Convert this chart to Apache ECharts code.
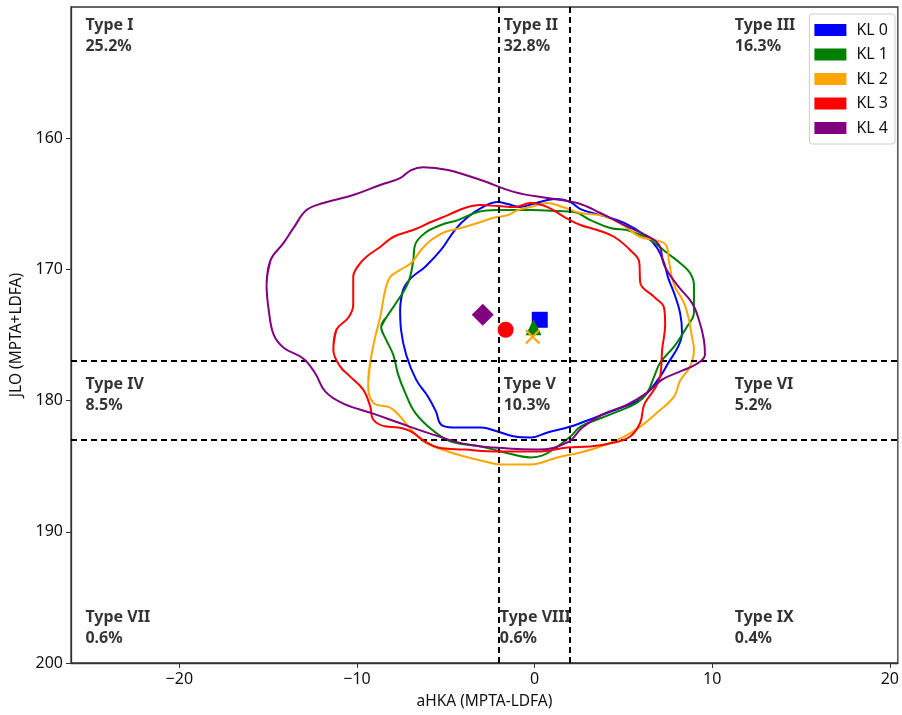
<!DOCTYPE html>
<html>
<head>
<meta charset="utf-8">
<script src="https://cdn.jsdelivr.net/npm/echarts@6/dist/echarts.min.js"></script>
<style>
html,body{margin:0;padding:0;background:#fff;}
#chart{width:902px;height:715px;}
</style>
</head>
<body>
<div id="chart"></div>
<script>
// ---- data ----
const seriesNames = ['KL 0', 'KL 1', 'KL 2', 'KL 3', 'KL 4'];
const seriesColors = ['#0000ff', '#008000', '#ffa500', '#ff0000', '#800080'];

// contour outlines [aHKA, JLO]
const contourKL0 = [[-7.57,173.08],[-7.40,171.56],[-6.95,170.65],[-6.17,169.81],[-5.27,168.52],[-4.49,167.00],[-3.76,166.01],[-2.92,165.25],[-2.08,164.87],[-1.51,165.02],[-0.84,165.25],[-0.11,165.02],[0.73,164.71],[1.29,164.64],[2.02,164.87],[2.58,165.40],[3.70,165.86],[5.05,166.46],[6.34,167.53],[6.90,168.37],[7.29,169.51],[7.52,170.65],[7.85,171.79],[8.19,173.31],[8.30,174.83],[8.08,175.89],[7.57,177.03],[7.07,178.17],[6.51,179.16],[5.95,179.92],[5.05,180.46],[3.53,181.22],[2.02,181.98],[0.73,182.43],[-0.22,182.81],[-1.12,182.74],[-2.08,182.36],[-3.03,182.05],[-4.60,182.05],[-5.27,181.83],[-5.55,180.84],[-6.00,179.70],[-6.67,178.40],[-7.23,176.50],[-7.52,174.60]];
const contourKL1 = [[-8.64,174.37],[-8.36,173.69],[-7.68,172.32],[-7.12,171.03],[-6.84,169.43],[-6.73,168.14],[-6.17,167.22],[-5.27,166.62],[-4.32,166.24],[-3.20,165.63],[-2.08,165.48],[-0.22,165.48],[1.29,165.55],[2.24,165.63],[3.14,166.24],[4.26,166.84],[5.38,167.07],[6.51,167.76],[7.46,168.75],[8.19,169.51],[8.75,170.27],[8.97,171.18],[8.97,172.32],[8.97,173.31],[8.58,174.37],[7.85,175.89],[7.07,177.11],[6.73,178.17],[6.34,179.39],[5.78,180.15],[4.66,180.84],[3.53,181.44],[2.58,181.98],[2.02,182.74],[1.29,183.50],[0.45,184.18],[-0.22,184.33],[-1.68,183.95],[-3.03,183.50],[-4.71,183.12],[-5.72,182.28],[-6.73,180.91],[-7.29,179.39],[-7.68,178.02],[-7.96,176.50],[-8.36,175.36]];
const contourKL2 = [[-9.37,178.63],[-9.20,176.65],[-8.97,175.13],[-8.69,173.61],[-8.52,172.32],[-8.36,171.33],[-8.13,170.57],[-7.57,170.04],[-6.95,169.51],[-6.39,168.52],[-5.83,167.76],[-5.05,167.15],[-4.15,166.84],[-3.20,166.46],[-2.36,166.08],[-1.51,165.86],[-0.95,165.48],[-0.22,165.25],[0.73,164.94],[1.57,165.25],[2.58,165.70],[3.93,165.93],[5.05,166.69],[5.95,167.53],[6.79,167.76],[7.40,168.14],[7.57,169.43],[7.85,171.18],[8.41,172.55],[8.69,173.84],[8.86,175.13],[8.97,176.12],[8.75,177.41],[8.19,178.48],[7.85,179.70],[6.90,180.91],[5.95,181.98],[5.05,182.74],[3.70,183.50],[2.58,183.95],[1.29,184.33],[-0.22,184.87],[-1.91,184.87],[-2.80,184.64],[-3.93,184.26],[-4.88,183.88],[-6.17,183.19],[-6.95,182.21],[-7.52,181.29],[-8.13,180.53],[-9.09,180.15]];
const contourKL3 = [[-11.33,176.12],[-11.16,174.60],[-10.49,173.69],[-10.21,172.70],[-10.21,171.56],[-10.21,170.57],[-9.93,169.73],[-9.48,169.05],[-8.69,168.29],[-7.96,167.53],[-6.84,167.00],[-5.83,166.39],[-4.88,165.86],[-3.93,165.32],[-3.08,165.10],[-2.08,165.17],[-1.12,165.25],[-0.22,164.94],[0.73,165.25],[1.68,166.01],[2.58,166.62],[3.53,167.00],[4.49,167.53],[5.38,168.52],[5.89,169.43],[5.95,171.03],[6.73,172.09],[7.29,172.93],[7.35,174.22],[7.18,176.12],[7.07,178.17],[6.73,179.16],[6.17,180.30],[5.95,181.67],[5.38,182.74],[4.49,183.19],[3.14,183.50],[1.85,183.57],[0.17,183.88],[-2.08,183.88],[-3.93,183.73],[-5.44,183.57],[-6.17,183.12],[-6.95,182.36],[-7.68,182.05],[-8.36,181.98],[-9.09,181.44],[-9.25,180.46],[-9.65,179.16],[-10.38,178.17],[-10.94,177.41]];
const contourKL4 = [[-15.09,171.18],[-14.86,169.28],[-14.13,167.98],[-13.57,166.84],[-12.84,165.48],[-11.89,164.94],[-10.21,164.33],[-8.69,163.57],[-7.57,163.04],[-6.95,162.43],[-6.28,162.21],[-4.88,162.43],[-3.03,163.19],[-1.12,164.11],[0.73,164.56],[2.41,164.94],[3.70,165.70],[5.05,166.62],[6.34,167.45],[7.01,168.14],[7.29,169.66],[8.02,171.18],[8.86,172.55],[9.25,173.84],[9.53,175.36],[9.59,176.50],[9.14,177.19],[8.30,177.72],[7.18,178.40],[6.34,179.39],[5.22,180.30],[3.81,181.06],[2.69,182.05],[1.85,183.19],[0.17,183.73],[-1.51,183.65],[-3.76,183.35],[-5.72,182.59],[-7.68,181.67],[-9.09,180.99],[-10.77,180.23],[-11.78,179.32],[-12.34,177.95],[-13.01,176.81],[-14.13,175.97],[-14.69,174.98],[-14.97,173.08]];
const contours = [contourKL0, contourKL1, contourKL2, contourKL3, contourKL4];

// mean markers [aHKA, JLO]
const meanKL0 = [0.29, 173.84];
const meanKL1 = [-0.06, 174.41];
const meanKL2 = [-0.11, 175.13];
const meanKL3 = [-1.63, 174.60];
const meanKL4 = [-2.92, 173.46];
const means = [meanKL0, meanKL1, meanKL2, meanKL3, meanKL4];

// classification thresholds
const aHKAThresholds = [-2, 2];
const jloThresholds = [177, 183];

// region annotations
const typeNames = ['Type I','Type II','Type III','Type IV','Type V','Type VI','Type VII','Type VIII','Type IX'];
const typePercents = ['25.2%','32.8%','16.3%','8.5%','10.3%','5.2%','0.6%','0.6%','0.4%'];
const typeLabelX = [-25.29, -1.74, 11.27, -25.29, -1.74, 11.27, -25.29, -1.96, 11.27];
const typeLabelY = [150.6, 150.6, 150.6, 178.0, 178.0, 178.0, 195.7, 195.7, 195.7];

// axis ticks
const xTicks = [-20, -10, 0, 10, 20];
const yTicks = [160, 170, 180, 190, 200];
const xRange = [-26.1, 20.45];
const yRange = [150, 200];

// ---- chart ----
const FONT = 'Noto Sans';
const xSymbol = 'path://M0,1 L1,0 L5,4 L9,0 L10,1 L6,5 L10,9 L9,10 L5,6 L1,10 L0,9 L4,5 Z';
const markerSymbols = ['rect', 'triangle', xSymbol, 'circle', 'diamond'];
const markerSizes = [16, 16, 15, 16, 22];

const series = [];
contours.forEach((c, i) => {
  series.push({
    name: seriesNames[i],
    type: 'line',
    data: c.concat([c[0], c[1]]),
    smooth: 0.4,
    showSymbol: false,
    symbol: 'none',
    silent: true,
    z: 2 + i,
    lineStyle: { color: seriesColors[i], width: 2 },
    itemStyle: { color: seriesColors[i] }
  });
});
means.forEach((m, i) => {
  series.push({
    name: seriesNames[i],
    type: 'scatter',
    data: [m],
    symbol: markerSymbols[i],
    symbolSize: markerSizes[i],
    z: 10 + i,
    itemStyle: { color: seriesColors[i], opacity: 1 }
  });
});
// dashed thresholds
series.push({
  type: 'line',
  data: [],
  silent: true,
  markLine: {
    silent: true,
    symbol: 'none',
    label: { show: false },
    animation: false,
    lineStyle: { color: '#000', width: 2, type: [6, 4] },
    data: aHKAThresholds.map(v => ({ xAxis: v })).concat(jloThresholds.map(v => ({ yAxis: v })))
  }
});
// annotations
series.push({
  type: 'scatter',
  silent: true,
  symbolSize: 0,
  z: 20,
  data: typeNames.map((n, i) => ({ value: [typeLabelX[i], typeLabelY[i]], name: n + '\n' + typePercents[i] })),
  label: {
    show: true,
    position: [0, 0],
    align: 'left',
    verticalAlign: 'top',
    formatter: p => p.name,
    fontFamily: FONT,
    fontWeight: 'bold',
    fontSize: 16,
    lineHeight: 21,
    color: '#000'
  }
});

const minusFmt = v => String(v).replace('-', '\u2212');

const option = {
  animation: false,
  backgroundColor: '#fff',
  color: seriesColors,
  grid: { left: 71, right: 1, top: 7, bottom: 50, show: true, borderColor: '#333', borderWidth: 1.3, containLabel: false },
  legend: {
    data: seriesNames,
    orient: 'vertical',
    right: 7,
    top: 14,
    icon: 'rect',
    itemWidth: 32,
    itemHeight: 12,
    itemGap: 8.5,
    padding: [8, 7, 8, 5],
    backgroundColor: '#fff',
    borderColor: '#ccc',
    borderWidth: 1,
    borderRadius: 3,
    textStyle: { fontFamily: FONT, fontSize: 16, lineHeight: 14, color: '#111', padding: [0, 0, 0, 5] },
    selectedMode: false
  },
  xAxis: {
    type: 'value',
    min: xRange[0],
    max: xRange[1],
    name: 'aHKA (MPTA-LDFA)',
    nameLocation: 'middle',
    nameGap: 31,
    nameTextStyle: { fontFamily: FONT, fontSize: 15.5, color: '#111' },
    splitLine: { show: false },
    axisLine: { show: true, onZero: false, lineStyle: { color: '#333', width: 1.3 } },
    axisTick: { show: true, length: 5, customValues: xTicks, lineStyle: { color: '#333' } },
    axisLabel: { customValues: xTicks, formatter: minusFmt, fontFamily: FONT, fontSize: 16, color: '#111', margin: 8 }
  },
  yAxis: {
    type: 'value',
    inverse: true,
    min: yRange[0],
    max: yRange[1],
    name: 'JLO (MPTA+LDFA)',
    nameLocation: 'middle',
    nameGap: 46,
    nameRotate: 90,
    nameTextStyle: { fontFamily: FONT, fontSize: 15.5, color: '#111' },
    splitLine: { show: false },
    axisLine: { show: true, onZero: false, lineStyle: { color: '#333', width: 1.3 } },
    axisTick: { show: true, length: 5, customValues: yTicks, lineStyle: { color: '#333' } },
    axisLabel: { customValues: yTicks, fontFamily: FONT, fontSize: 16, color: '#111', margin: 8 }
  },
  series: series
};

const chart = echarts.init(document.getElementById('chart'), null, { renderer: 'canvas' });
chart.setOption(option);
</script>
</body>
</html>
